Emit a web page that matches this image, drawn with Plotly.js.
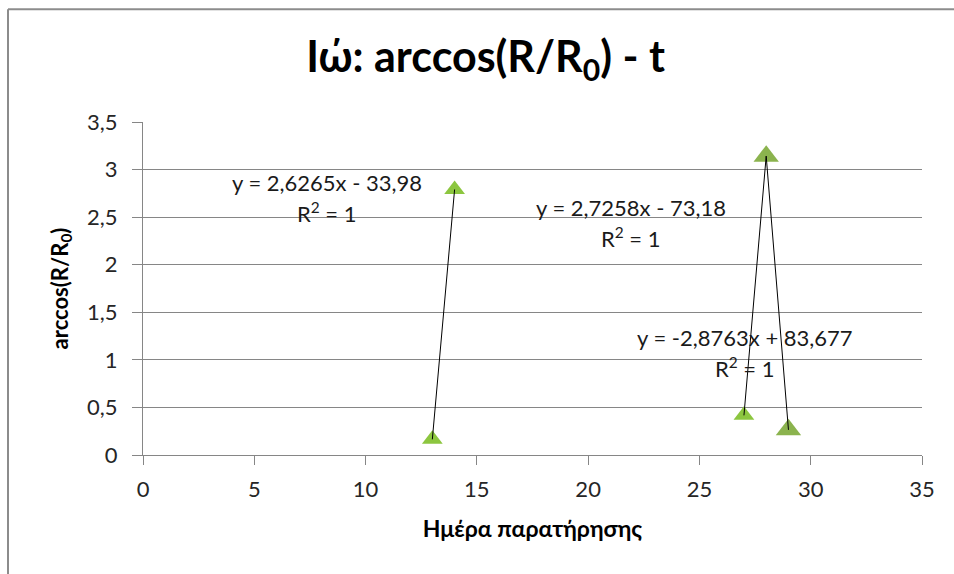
<!DOCTYPE html>
<html>
<head>
<meta charset="utf-8">
<script src="https://cdn.plot.ly/plotly-3.0.1.min.js"></script>
<style>
html,body{margin:0;padding:0;background:#fff;}
#chart{width:954px;height:574px;}
</style>
</head>
<body>
<div id="chart"></div>
<script>
// Data
const daysA = [13, 14];
const valuesA = [0.1645, 2.791];
const daysB = [27, 28];
const valuesB = [0.4166, 3.1424];
const daysC = [28, 29];
const valuesC = [3.1406, 0.2643];

const eqA = "y = 2,6265x - 33,98";
const eqB = "y = 2,7258x - 73,18";
const eqC = "y = -2,8763x + 83,677";
const r2Label = "R<sup>2</sup> = 1";

const chartTitle = "Ιώ: arccos(R/R<sub>0</sub>) - t";
const xTitle = "Ημέρα παρατήρησης";
const yTitle = "arccos(R/R<sub>0</sub>)";

const xTicks = [0, 5, 10, 15, 20, 25, 30, 35];
const yTicks = [0, 0.5, 1, 1.5, 2, 2.5, 3, 3.5];

const green = '#8cc63f';
const olive = '#8bb34e';
const font = 'Lato, "Open Sans", sans-serif';

function markerTrace(x, y, color, size) {
  return {x: x, y: y, type: 'scatter', mode: 'markers', showlegend: false, hoverinfo: 'x+y',
    marker: {symbol: 'triangle-up', size: size, color: color, line: {width: 0}}};
}
function lineTrace(x, y) {
  return {x: x, y: y, type: 'scatter', mode: 'lines', showlegend: false, hoverinfo: 'skip',
    line: {color: '#000000', width: 1}};
}

const data = [
  markerTrace(daysA, valuesA, green, 18),
  markerTrace(daysB, valuesB, green, 18),
  markerTrace(daysC, valuesC, olive, 22),
  lineTrace(daysA, valuesA),
  lineTrace(daysB, valuesB),
  lineTrace(daysC, valuesC)
];

const annFont = {family: font, size: 22, color: '#1a1a1a'};
function ann(text, x, y) {
  return {text: text, x: x, y: y, xref: 'x', yref: 'y', showarrow: false,
    xanchor: 'center', yanchor: 'middle', font: annFont};
}

const layout = {
  width: 954, height: 574,
  paper_bgcolor: '#ffffff', plot_bgcolor: '#ffffff',
  separators: ', ',
  margin: {l: 143, r: 32, t: 122, b: 119, pad: 0},
  font: {family: font, color: '#262626'},
  title: {text: chartTitle, font: {family: font, size: 43, color: '#000000', weight: 'bold'},
    x: 0.509, xref: 'container', xanchor: 'center', y: 0.9, yref: 'container', yanchor: 'middle'},
  xaxis: {
    range: [0, 35], tickvals: xTicks, ticktext: xTicks.map(String),
    showgrid: false, zeroline: false, showline: true, linecolor: '#868686', linewidth: 1,
    ticks: 'outside', ticklen: 9, tickcolor: '#868686', tickwidth: 1,
    tickfont: {family: font, size: 22, color: '#262626'},
    ticklabelstandoff: 6,
    title: {text: xTitle, font: {family: font, size: 23, color: '#000000', weight: 'bold'}, standoff: 19},
    fixedrange: true
  },
  yaxis: {
    range: [0, 3.5], tickvals: yTicks, ticktext: yTicks.map(v => String(v).replace('.', ',')),
    showgrid: true, gridcolor: '#868686', gridwidth: 1,
    zeroline: false, showline: true, linecolor: '#868686', linewidth: 1,
    ticks: 'outside', ticklen: 10, tickcolor: '#868686', tickwidth: 1,
    tickfont: {family: font, size: 22, color: '#262626'},
    ticklabelstandoff: 10,
    title: {text: yTitle, font: {family: font, size: 22, color: '#000000', weight: 'bold'}, standoff: 12},
    fixedrange: true
  },
  annotations: [
    ann(eqA, 8.27, 2.867), ann(r2Label, 8.27, 2.552),
    ann(eqB, 21.93, 2.604), ann(r2Label, 21.93, 2.289),
    ann(eqC, 27.05, 1.239), ann(r2Label, 27.05, 0.924)
  ],
  shapes: [
    {type: 'line', xref: 'paper', yref: 'paper', x0: -0.1733, x1: -0.1733, y0: -0.40, y1: 1.3383,
      line: {color: '#8c8c8c', width: 2}},
    {type: 'line', xref: 'paper', yref: 'paper', x0: -0.1733, x1: 1.06, y0: 1.3383, y1: 1.3383,
      line: {color: '#8c8c8c', width: 2}}
  ],
  showlegend: false
};

Plotly.newPlot('chart', data, layout, {displayModeBar: false, staticPlot: true});
</script>
</body>
</html>
